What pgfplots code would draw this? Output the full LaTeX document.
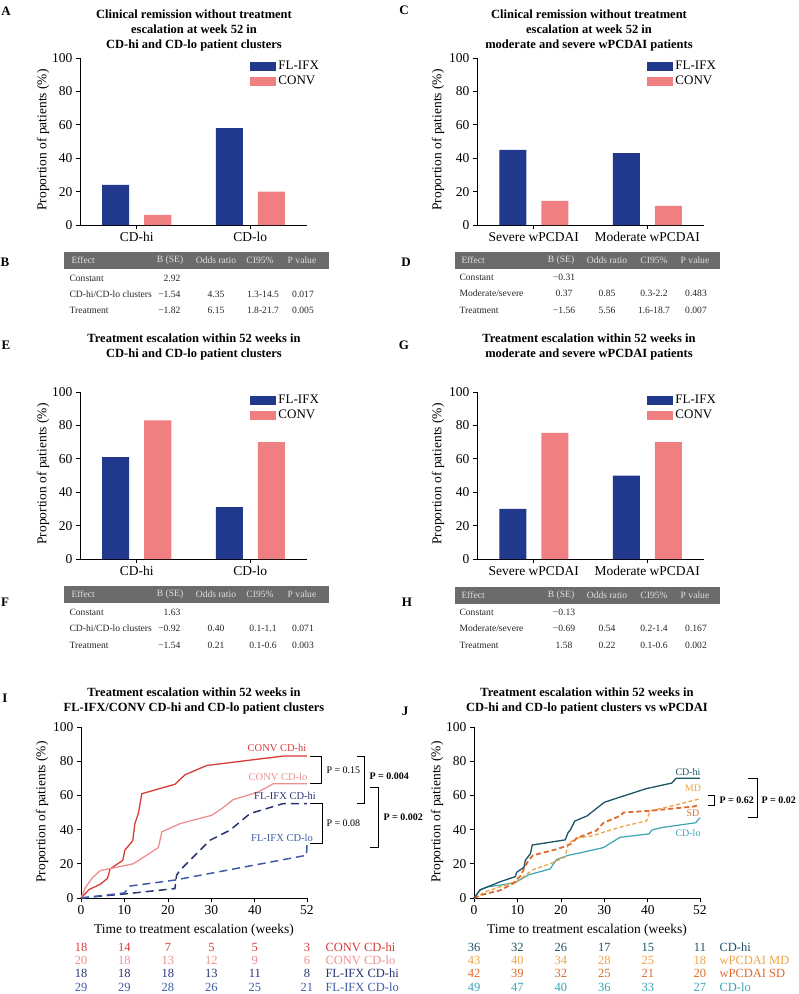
\documentclass[border=0pt]{standalone}
\usepackage{fontspec}
\setmainfont{Liberation Serif}
\usepackage{pgfplots}
\pgfplotsset{compat=1.18}

\definecolor{ifx}{HTML}{21398C}
\definecolor{conv}{HTML}{EF7F80}
\definecolor{cHi}{HTML}{D63B36}
\definecolor{cLo}{HTML}{EE8F8F}
\definecolor{fHi}{HTML}{283572}
\definecolor{fLo}{HTML}{3E5CA6}
\definecolor{jHi}{HTML}{1C5365}
\definecolor{jMD}{HTML}{EFA443}
\definecolor{jSD}{HTML}{E06A2B}
\definecolor{jLo}{HTML}{3BA3B3}
\definecolor{hdr}{HTML}{6B6B6B}

\pgfplotsset{
  panel/.style={
    scale only axis, axis lines=left,
    axis line style={-, line width=0.8pt},
    ymin=0, ymax=100, ytick={0,20,40,60,80,100},
    major tick length=4pt, tick align=outside,
    tick style={line width=0.8pt, black},
    tick label style={font=\fontsize{13.5}{14}\selectfont},
    /pgf/number format/assume math mode=true,
    clip=false},
  bars/.style={panel, width=227pt, height=167pt,
    xmin=0.5, xmax=2.5, xtick={1,2}, ybar, bar width=27pt,
    legend cell align=left,
    legend style={at={(0.75,0.995)}, anchor=north west, draw=none, fill=none,
      inner sep=0pt, row sep=1pt, font=\fontsize{13}{14}\selectfont}},
  km/.style={panel, width=226pt, height=171pt,
    xmin=0, xmax=52, xtick={0,10,20,30,40,52}},
  ifxbar/.style={fill=ifx, draw=none, bar shift=-21pt,
    legend image code/.code={\fill[ifx] (0pt,-4.5pt) rectangle (26pt,4.5pt);}},
  convbar/.style={fill=conv, draw=none, bar shift=21pt,
    legend image code/.code={\fill[conv] (0pt,-4.5pt) rectangle (26pt,4.5pt);}},
}

\newcommand{\ttl}{\fontsize{12.5}{15}\selectfont\bfseries}
\newcommand{\lbl}{\fontsize{13.5}{14}\selectfont}
\newcommand{\tab}{\fontsize{9.6}{11}\selectfont}
\newcommand{\rsk}{\fontsize{12.5}{13}\selectfont}

% header of a regression table: left, right, y, effect x, B x, OR x, CI x, P x
\newcommand{\thead}[8]{%
  \fill[hdr] (#1,#3-8.5) rectangle (#2,#3+8.5);
  \node[text=white!88!black, font=\tab, anchor=west] at (#4,#3) {Effect};
  \node[text=white!88!black, font=\tab] at (#5,#3) {B (SE)};
  \node[text=white!88!black, font=\tab] at (#6,#3) {Odds ratio};
  \node[text=white!88!black, font=\tab] at (#7,#3) {CI95\%};
  \node[text=white!88!black, font=\tab] at (#8,#3) {P value};}
\newcommand{\lrow}[6]{%
  \node[font=\tab, text=black!85, anchor=west] at (66,#1) {#2};
  \node[font=\tab, text=black!85, anchor=east] at (184,#1) {#3};
  \node[font=\tab, text=black!85] at (216,#1) {#4};
  \node[font=\tab, text=black!85] at (263,#1) {#5};
  \node[font=\tab, text=black!85] at (303,#1) {#6};}
\newcommand{\rrow}[6]{%
  \node[font=\tab, text=black!85, anchor=west] at (456,#1) {#2};
  \node[font=\tab, text=black!85] at (564,#1) {#3};
  \node[font=\tab, text=black!85] at (607,#1) {#4};
  \node[font=\tab, text=black!85] at (654,#1) {#5};
  \node[font=\tab, text=black!85] at (696,#1) {#6};}
% numbers at risk: x of week 0, colour, y, six counts
\newcommand{\risk}[9]{%
  \foreach \w/\n in {0/#4,10/#5,20/#6,30/#7,40/#8,52/#9}
    \node[text=#2, font=\rsk] at ({#1+4.346*\w},#3) {\n};}

\begin{document}
\begin{tikzpicture}
\path[use as bounding box] (0,0) rectangle (799pt,-994pt);

% ---- A
\begin{axis}[bars, at={(80pt,-225pt)}, anchor=south west, xticklabels={CD-hi,CD-lo}]
\addplot[ifxbar] coordinates {(1,24) (2,58)};
\addplot[convbar] coordinates {(1,6) (2,20)};
\legend{FL-IFX,CONV}
\end{axis}
% ---- C
\begin{axis}[bars, at={(477pt,-225pt)}, anchor=south west, xticklabels={Severe wPCDAI,Moderate wPCDAI}]
\addplot[ifxbar] coordinates {(1,45) (2,43)};
\addplot[convbar] coordinates {(1,14.4) (2,11.4)};
\legend{FL-IFX,CONV}
\end{axis}
% ---- E
\begin{axis}[bars, at={(80pt,-559pt)}, anchor=south west, xticklabels={CD-hi,CD-lo}]
\addplot[ifxbar] coordinates {(1,61) (2,31)};
\addplot[convbar] coordinates {(1,83) (2,70)};
\legend{FL-IFX,CONV}
\end{axis}
% ---- G
\begin{axis}[bars, at={(477pt,-559pt)}, anchor=south west, xticklabels={Severe wPCDAI,Moderate wPCDAI}]
\addplot[ifxbar] coordinates {(1,30) (2,50)};
\addplot[convbar] coordinates {(1,75.5) (2,70)};
\legend{FL-IFX,CONV}
\end{axis}

% ---- I
\begin{axis}[km, at={(81pt,-898pt)}, anchor=south west]
\addplot[cHi, line width=1.3pt] coordinates {(0,0) (1.9,5) (4.4,8) (6.1,11.5) (6.7,17) (9.6,22) (10.1,28) (11.9,33.5) (12.4,43.5) (13.2,49.5) (14,61) (21.6,66.5) (23.9,72) (28.9,77.5) (46.5,83) (52,83)};
\addplot[cLo, line width=1.3pt] coordinates {(0,0) (1,6) (2.5,11.5) (4.4,16) (12,20) (15.1,25) (17.8,29.5) (18.6,38.7) (22.8,43.5) (30.1,48.4) (32.4,52.3) (35,57.5) (40.8,62) (44.2,66.8) (52,66.8)};
\addplot[fHi, line width=1.5pt, dash pattern=on 8pt off 5pt] coordinates {(0,0) (5,1.2) (9.7,2.3) (21.6,5.5) (22,13.4) (22.8,16.3) (29.7,33.8) (34.3,39.7) (38.9,49.4) (46.5,55.2) (52,55.2)};
\addplot[fLo, line width=1.5pt, dash pattern=on 8pt off 5pt] coordinates {(0,0) (5,1.5) (10,3) (11.3,7) (21.6,10.5) (51.9,25) (52,31.5)};
\end{axis}
% ---- J
\begin{axis}[km, at={(474pt,-898pt)}, anchor=south west]
\addplot[jLo, line width=1.2pt] coordinates {(0,0) (1.5,5) (3,6.5) (6,7.5) (9.5,9) (10.5,10.5) (12.5,13.5) (17.5,17) (19,22.5) (21.7,25) (25.5,27) (29.8,29.5) (32,33) (33.6,35.5) (40.3,37.5) (40.9,39.7) (43.2,41.2) (51,44) (52,47)};
\addplot[jMD, line width=1.3pt, dash pattern=on 4pt off 2.5pt] coordinates {(0,0) (3,4) (6,6.5) (10,10) (11.7,13) (13.5,16.5) (17.5,20) (21,24) (21.7,32) (23.7,35) (27.5,36.5) (29.8,38.5) (34.4,42) (39.7,45) (40.5,51) (45,53.5) (52,58)};
\addplot[jSD, line width=1.8pt, dash pattern=on 5pt off 3pt] coordinates {(0,0) (2,2) (6,4.5) (9,8.5) (10.7,13) (11.7,18) (12.5,22) (13.6,25) (19,28.5) (21.3,30.5) (22.5,32) (23.6,35) (28.2,39.5) (29.8,44) (33.6,48) (34.4,50) (40.5,51) (50.5,53.5) (52,54.5)};
\addplot[jHi, line width=1.3pt] coordinates {(0,0) (1.4,4.7) (6,9.5) (9.5,12.5) (9.8,15) (11.5,18) (11.8,22) (13,26) (13.4,31) (21,34) (21.6,38) (22.2,40) (23.2,45) (26,48) (28,52) (30,56) (33.6,59) (39.7,64) (45.5,67.2) (46.5,70) (52,70)};
\end{axis}

\begin{scope}[x=1pt,y=-1pt]
% panel letters
\foreach \l/\x/\y in {A/6/11,C/404/10,B/5/262,D/406/262,E/6/345,G/404/345,F/5/602,H/407/602,I/5/698,J/405/711}
  \node[font=\fontsize{13}{13}\selectfont\bfseries] at (\x,\y) {\l};
% titles
\node[font=\ttl, align=center] at (194,30) {Clinical remission without treatment\\escalation at week 52 in\\CD-hi and CD-lo patient clusters};
\node[font=\ttl, align=center] at (589,30) {Clinical remission without treatment\\escalation at week 52 in\\moderate and severe wPCDAI patients};
\node[font=\ttl, align=center] at (194,347) {Treatment escalation within 52 weeks in\\CD-hi and CD-lo patient clusters};
\node[font=\ttl, align=center] at (589,347) {Treatment escalation within 52 weeks in\\moderate and severe wPCDAI patients};
\node[font=\ttl, align=center] at (194,700.5) {Treatment escalation within 52 weeks in\\FL-IFX/CONV CD-hi and CD-lo patient clusters};
\node[font=\ttl, align=center] at (587,700.5) {Treatment escalation within 52 weeks in\\CD-hi and CD-lo patient clusters vs wPCDAI};
% y labels
\foreach \x/\y in {43/140,438/140,43/474,438/474,42/812,437/812}
  \node[font=\lbl, rotate=90] at (\x,\y) {Proportion of patients (\%)};
\node[font=\lbl] at (194,930) {Time to treatment escalation (weeks)};
\node[font=\lbl] at (587,930) {Time to treatment escalation (weeks)};

% tables B and D
\thead{64}{329}{260}{68}{170}{216}{260}{302}
\lrow{278}{Constant}{2.92}{}{}{}
\lrow{294}{CD-hi/CD-lo clusters}{−1.54}{4.35}{1.3-14.5}{0.017}
\lrow{310}{Treatment}{−1.82}{6.15}{1.8-21.7}{0.005}
\thead{455}{720}{260}{458}{561}{607}{654}{695}
\rrow{277}{Constant}{−0.31}{}{}{}
\rrow{293}{Moderate/severe}{0.37}{0.85}{0.3-2.2}{0.483}
\rrow{310}{Treatment}{−1.56}{5.56}{1.6-18.7}{0.007}
% tables F and H
\thead{64}{329}{594}{68}{170}{216}{260}{302}
\lrow{612}{Constant}{1.63}{}{}{}
\lrow{628}{CD-hi/CD-lo clusters}{−0.92}{0.40}{0.1-1.1}{0.071}
\lrow{645}{Treatment}{−1.54}{0.21}{0.1-0.6}{0.003}
\thead{455}{720}{595}{458}{561}{607}{654}{695}
\rrow{612}{Constant}{−0.13}{}{}{}
\rrow{628}{Moderate/severe}{−0.69}{0.54}{0.2-1.4}{0.167}
\rrow{645}{Treatment}{1.58}{0.22}{0.1-0.6}{0.002}

% curve labels I
\node[text=cHi, font=\fontsize{10.5}{11}\selectfont] at (277,748) {CONV CD-hi};
\node[text=cLo, font=\fontsize{10.5}{11}\selectfont] at (278,777) {CONV CD-lo};
\node[text=fHi, font=\fontsize{10.5}{11}\selectfont] at (285,796) {FL-IFX CD-hi};
\node[text=fLo, font=\fontsize{10.5}{11}\selectfont] at (282,838) {FL-IFX CD-lo};
% brackets I
\draw[line width=0.7pt] (310,756) -- (321,756) -- (321,783) -- (310,783);
\node[font=\fontsize{10}{11}\selectfont, anchor=west] at (323,770) {P = 0.15};
\draw[line width=0.7pt] (310,803) -- (322,803) -- (322,843) -- (310,843);
\node[font=\fontsize{10}{11}\selectfont, anchor=west] at (323,823) {P = 0.08};
\draw[line width=0.7pt] (357,756) -- (364,756) -- (364,803) -- (357,803);
\node[font=\fontsize{10}{11}\selectfont\bfseries, anchor=west] at (366,776) {P = 0.004};
\draw[line width=0.7pt] (370,787) -- (378,787) -- (378,847) -- (370,847);
\node[font=\fontsize{10}{11}\selectfont\bfseries, anchor=west] at (380,817) {P = 0.002};
% curve labels J
\node[text=jHi, font=\fontsize{10}{11}\selectfont] at (688,772) {CD-hi};
\node[text=jMD, font=\fontsize{10}{11}\selectfont] at (693,788) {MD};
\node[text=jSD, font=\fontsize{10}{11}\selectfont] at (693,813) {SD};
\node[text=jLo, font=\fontsize{10}{11}\selectfont] at (688,833) {CD-lo};
% brackets J
\draw[line width=0.7pt] (708,795) -- (714,795) -- (714,805) -- (708,805);
\node[font=\fontsize{10}{11}\selectfont\bfseries, anchor=west] at (716,800) {P = 0.62};
\draw[line width=0.7pt] (748,778) -- (757,778) -- (757,817) -- (748,817);
\node[font=\fontsize{10}{11}\selectfont\bfseries, anchor=west] at (758,800) {P = 0.02};

% numbers at risk
\risk{81}{cHi}{947}{18}{14}{7}{5}{5}{3}
\risk{81}{cLo}{960}{20}{18}{13}{12}{9}{6}
\risk{81}{fHi}{973}{18}{18}{18}{13}{11}{8}
\risk{81}{fLo}{987}{29}{29}{28}{26}{25}{21}
\node[text=cHi, font=\rsk, anchor=west] at (322,947) {CONV CD-hi};
\node[text=cLo, font=\rsk, anchor=west] at (322,960) {CONV CD-lo};
\node[text=fHi, font=\rsk, anchor=west] at (322,973) {FL-IFX CD-hi};
\node[text=fLo, font=\rsk, anchor=west] at (322,987) {FL-IFX CD-lo};
\risk{474}{jHi}{947}{36}{32}{26}{17}{15}{11}
\risk{474}{jMD}{960}{43}{40}{34}{28}{25}{18}
\risk{474}{jSD}{973}{42}{39}{32}{25}{21}{20}
\risk{474}{jLo}{987}{49}{47}{40}{36}{33}{27}
\node[text=jHi, font=\rsk, anchor=west] at (716,947) {CD-hi};
\node[text=jMD, font=\rsk, anchor=west] at (716,960) {wPCDAI MD};
\node[text=jSD, font=\rsk, anchor=west] at (716,973) {wPCDAI SD};
\node[text=jLo, font=\rsk, anchor=west] at (716,987) {CD-lo};
\end{scope}
\end{tikzpicture}
\end{document}
